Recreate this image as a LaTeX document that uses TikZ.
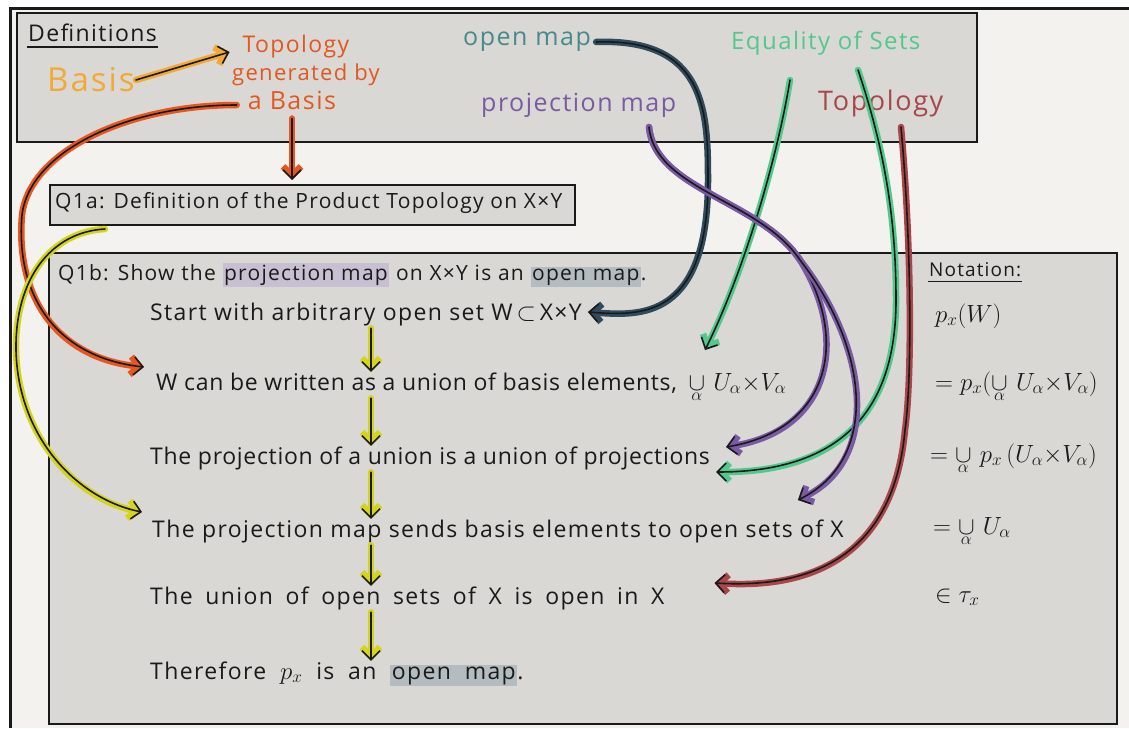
\documentclass[tikz,border=0pt]{standalone}
\usepackage{fontspec}
\setmainfont{Open Sans}[LetterSpace=6]
\usetikzlibrary{arrows.meta,calc}
\definecolor{bgc}{HTML}{F3F2EF}
\definecolor{boxc}{HTML}{D9D8D4}
\definecolor{ink}{HTML}{1A1A1A}
\definecolor{orng}{HTML}{E4571E}
\definecolor{basisc}{HTML}{F4A935}
\definecolor{tealt}{HTML}{468A8C}
\definecolor{tealc}{HTML}{2F4B5C}
\definecolor{purp}{HTML}{7A5AA3}
\definecolor{grn}{HTML}{52C98C}
\definecolor{dred}{HTML}{A8464A}
\definecolor{yhal}{HTML}{D4D418}
\definecolor{hlpurple}{HTML}{C8BFD2}
\definecolor{hlgray}{HTML}{B4BCC1}
\setlength{\fboxsep}{1.5pt}
\newcommand{\ualpha}{\mathop{\cup}\limits_{\rule{0pt}{9pt}\alpha}}
\tikzset{
  conn/.style={line cap=round, line join=round, draw=ink, line width=1.6pt,
    -{Straight Barb[length=9pt,width=18pt]},
    preaction={draw=#1, line width=6.5pt, line cap=round, line join=round,
      -{Straight Barb[length=9pt,width=18pt]}}},
  panel/.style={draw=ink, line width=2pt, fill=boxc, inner sep=0pt},
  steptext/.style={anchor=base west, inner sep=2pt, text=ink, text height=16pt, text depth=6pt,
    font=\fontsize{23}{26}\selectfont},
  nottext/.style={anchor=base west, inner sep=2pt, text=ink, font=\fontsize{25}{28}\selectfont},
}
\begin{document}
\begin{tikzpicture}[x=1pt,y=-1pt]
\useasboundingbox (0,0) rectangle (1129,728);
\fill[white] (0,0) rectangle (1129,728);
\fill[bgc] (10,8) rectangle (1129,728);
\draw[ink, line width=3pt] (10,728) -- (10,8) -- (1129,8);

% panels
\node[panel, anchor=north west, minimum width=960pt, minimum height=129pt] (defbox) at (16,12) {};
\node[panel, anchor=north west, minimum width=525pt, minimum height=40pt] (q1abox) at (49,184) {};
\node[panel, anchor=north west, minimum width=1068pt, minimum height=471pt] (q1bbox) at (48,252) {};

% definitions
\node[anchor=west, text=ink, font=\fontsize{23}{26}\selectfont, inner sep=1pt] (defs) at (27,33) {Definitions};
\draw[ink, line width=1.3pt] ($(defs.south west)+(0,4)$) -- ($(defs.south east)+(0,4)$);
\node[anchor=west, text=basisc, font=\fontsize{33}{36}\selectfont, inner sep=1pt] (basis) at (46,80) {Basis};
\node[text=orng, font=\fontsize{23}{26}\selectfont, inner sep=1pt] (tg1) at (296,47) {Topology};
\node[text=orng, font=\fontsize{22}{26}\selectfont, inner sep=1pt] (tg2) at (306,75) {generated by};
\node[text=orng, font=\fontsize{25}{26}\selectfont, inner sep=1pt] (tg3) at (292,100) {a Basis};
\node[anchor=west, text=tealt, font=\fontsize{25}{28}\selectfont, inner sep=1pt] (openmap) at (462,42) {open map};
\node[anchor=west, text=purp, font=\fontsize{25}{28}\selectfont, inner sep=1pt] (projmap) at (480,105) {projection map};
\node[anchor=west, text=grn, font=\fontsize{24}{26}\selectfont, inner sep=1pt] (eqsets) at (730,43) {Equality of Sets};
\node[anchor=west, text=dred, font=\fontsize{27}{30}\selectfont, inner sep=1pt] (topo) at (817,103) {Topology};

% Q1a
\node[anchor=west, text=ink, font=\fontsize{21}{24}\selectfont, inner sep=1pt] (q1a) at (54,203) {Q1a: Definition of the Product Topology on X×Y};

% Q1b
\node[anchor=west, text=ink, font=\fontsize{21}{24}\selectfont, inner sep=1pt] (q1b) at (57,275)
  {Q1b: Show the \colorbox{hlpurple}{projection map} on X×Y is an \colorbox{hlgray}{open map}.};
\node[anchor=west, text=ink, font=\fontsize{19}{24}\selectfont, inner sep=1pt] (notat) at (928,270) {Notation:};
\draw[ink, line width=1.2pt] ($(notat.south west)+(0,3)$) -- ($(notat.south east)+(0,3)$);

% steps
\node[steptext] (s1) at (148,320) {Start with arbitrary open set W\,$\subset$\,X×Y};
\node[steptext] (s2) at (154,390) {\addfontfeatures{LetterSpace=3}W can be written as a union of basis elements,\enspace $\ualpha\, U_\alpha{\times}V_\alpha$};
\node[steptext] (s3) at (148,464) {\addfontfeatures{LetterSpace=3}The projection of a union is a union of projections};
\node[steptext] (s4) at (150,537) {The projection map sends basis elements to open sets of X};
\node[steptext] (s5) at (148,604) {\spaceskip=0.55em The union of open sets of X is open in X};
\node[steptext] (s6) at (148,679) {\spaceskip=0.6em Therefore $p_x$ is an \colorbox{hlgray}{open map}.};

% notation column
\node[nottext] (n1) at (933,322) {$p_x(W)$};
\node[nottext] (n2) at (933,390) {$=p_x(\ualpha\, U_\alpha{\times}V_\alpha)$};
\node[nottext] (n3) at (928,462) {$=\ualpha\, p_x\,(U_\alpha{\times}V_\alpha)$};
\node[nottext] (n4) at (931,534) {$=\ualpha\, U_\alpha$};
\node[nottext] (n5) at (933,602) {$\in \tau_x$};

% coordinates for connector ends
\coordinate (ax) at (371,0);
\coordinate (orst) at ($(tg3.west)+(-10,5)$);
\coordinate (yest) at ($(q1abox.south west)+(56,3)$);
\coordinate (test) at ($(openmap.east)+(4,0)$);
\coordinate (g1st) at (790,80);
\coordinate (g2st) at (858,70);
\coordinate (pst) at (649,127);
\coordinate (rst) at (901,127);

% straight arrows
\draw[conn=basisc] (basis.east) -- ($(tg1.west)+(-12,5)$);
\draw[conn=orng, shorten <=8pt, shorten >=4pt] (tg3.south) -- (tg3.south |- q1abox.north);
\draw[conn=yhal] (s1.south -| ax) -- (s2.north -| ax);
\draw[conn=yhal] (s2.south -| ax) -- (s3.north -| ax);
\draw[conn=yhal] (s3.south -| ax) -- (s4.north -| ax);
\draw[conn=yhal] (s4.south -| ax) -- (s5.north -| ax);
\draw[conn=yhal] (s5.south -| ax) -- (s6.north -| ax);

% long curves
\draw[conn=orng] (orst) .. controls (130,105) and (30,150) .. (22,215)
   .. controls (15,300) and (60,358) .. ($(s2.west)+(-10,-18)$);
\draw[conn=yhal] (yest) .. controls (50,232) and (15,280) .. (16,350)
   .. controls (18,440) and (80,500) .. ($(s4.west)+(-8,-20)$);
\draw[conn=tealc] (test) .. controls (705,38) and (708,110) .. (708,180)
   .. controls (708,320) and (640,316) .. ($(s1.east)+(4,-3)$);
\draw[conn=grn] (g1st) .. controls (775,170) and (740,280) .. (705,350);
\draw[conn=grn] (g2st) .. controls (885,150) and (896,220) .. (896,300)
   .. controls (896,430) and (820,472) .. ($(s3.east)+(4,13)$);
\draw[conn=purp] (pst) .. controls (655,190) and (760,200) .. (800,260)
   .. controls (850,340) and (830,430) .. ($(s3.east)+(14,-12)$);
\draw[conn=purp] (pst) .. controls (655,190) and (760,200) .. (800,260)
   .. controls (870,350) and (880,460) .. ($(s4.east)+(-48,-32)$);
\draw[conn=dred] (rst) .. controls (912,250) and (912,380) .. (905,430)
   .. controls (895,540) and (830,590) .. ($(s5.east)+(48,-16)$);
\end{tikzpicture}
\end{document}
